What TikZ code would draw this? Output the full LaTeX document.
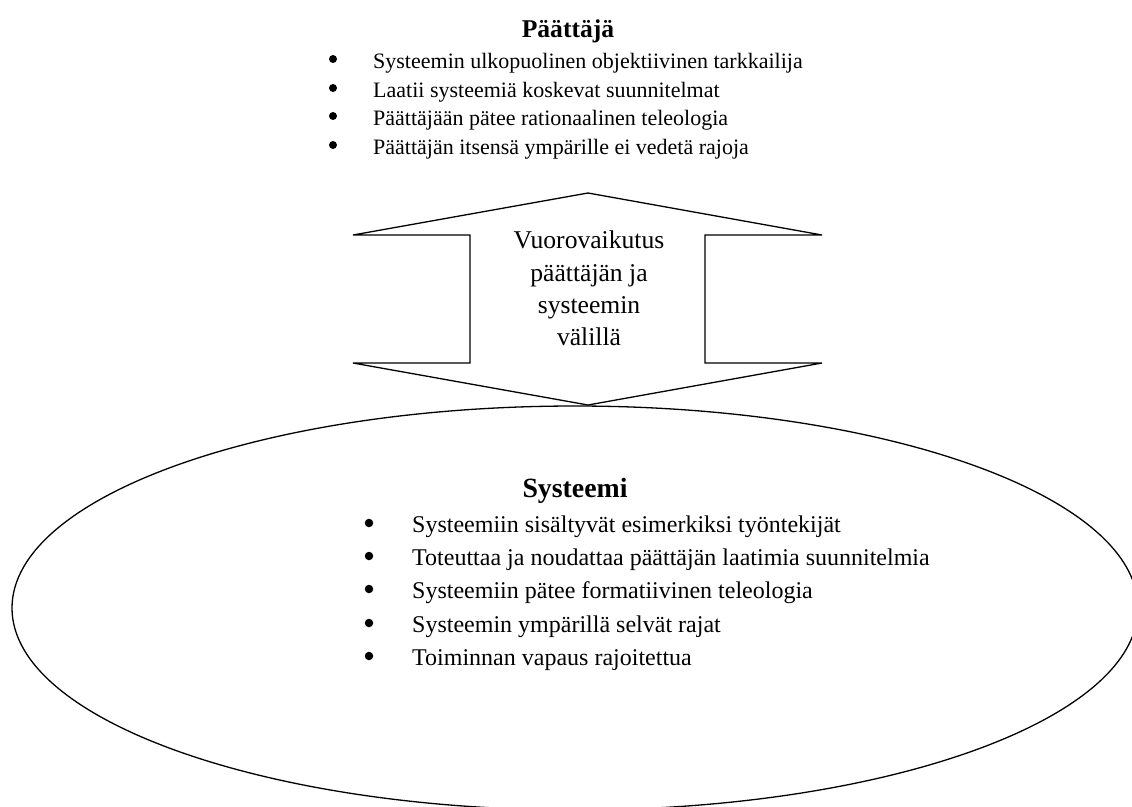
\documentclass[tikz,border=0pt]{standalone}
\usepackage{fontspec}
\setmainfont{Liberation Serif}
\begin{document}
\begin{tikzpicture}[x=1pt,y=-1pt,
  outline/.style={draw=black, line width=1.3pt, line join=miter},
  toptitle/.style={font=\fontsize{25.6}{30}\selectfont\bfseries, inner sep=0pt, anchor=base},
  topbul/.style={circle, fill=black, inner sep=0pt, minimum size=8pt},
  toptxt/.style={font=\fontsize{22}{26}\selectfont, inner sep=0pt, anchor=base west},
  arrtxt/.style={font=\fontsize{25.6}{30}\selectfont, inner sep=0pt, anchor=base},
  systitle/.style={font=\fontsize{27.8}{32}\selectfont\bfseries, inner sep=0pt, anchor=base},
  sysbul/.style={circle, fill=black, inner sep=0pt, minimum size=8.5pt},
  systxt/.style={font=\fontsize{24}{28}\selectfont, inner sep=0pt, anchor=base west}]
\useasboundingbox (0,0) rectangle (1132,806);
\clip (0,0) rectangle (1132,806);

% System ellipse
\draw[outline] (575,608) ellipse [x radius=563pt, y radius=202pt];

% Double arrow
\draw[outline, fill=white] (588,193) -- (822,235) -- (705,235) -- (705,363) -- (822,363)
  -- (588,405) -- (353,363) -- (470,363) -- (470,235) -- (353,235) -- cycle;

% Top block
\node[toptitle] (pt) at (568,37) {Päättäjä};
\node[topbul] (pb1) at (333,59) {};
\node[toptxt] (pl1) at (373,68) {Systeemin ulkopuolinen objektiivinen tarkkailija};
\node[topbul] (pb2) at (333,88) {};
\node[toptxt] (pl2) at (373,97) {Laatii systeemiä koskevat suunnitelmat};
\node[topbul] (pb3) at (333,116) {};
\node[toptxt] (pl3) at (373,125) {Päättäjään pätee rationaalinen teleologia};
\node[topbul] (pb4) at (333,145) {};
\node[toptxt] (pl4) at (373,154) {Päättäjän itsensä ympärille ei vedetä rajoja};

% Arrow text
\node[arrtxt] (a1) at (589,248) {Vuorovaikutus};
\node[arrtxt] (a2) at (589,281) {päättäjän ja};
\node[arrtxt] (a3) at (589,313) {systeemin};
\node[arrtxt] (a4) at (589,345) {välillä};

% System block
\node[systitle] (st) at (575,497) {Systeemi};
\node[sysbul] (sb1) at (369,523) {};
\node[systxt] (sl1) at (412,532) {Systeemiin sisältyvät esimerkiksi työntekijät};
\node[sysbul] (sb2) at (369,556) {};
\node[systxt] (sl2) at (412,565) {Toteuttaa ja noudattaa päättäjän laatimia suunnitelmia};
\node[sysbul] (sb3) at (369,589) {};
\node[systxt] (sl3) at (412,598) {Systeemiin pätee formatiivinen teleologia};
\node[sysbul] (sb4) at (369,623) {};
\node[systxt] (sl4) at (412,632) {Systeemin ympärillä selvät rajat};
\node[sysbul] (sb5) at (369,656) {};
\node[systxt] (sl5) at (412,665) {Toiminnan vapaus rajoitettua};
\end{tikzpicture}
\end{document}
